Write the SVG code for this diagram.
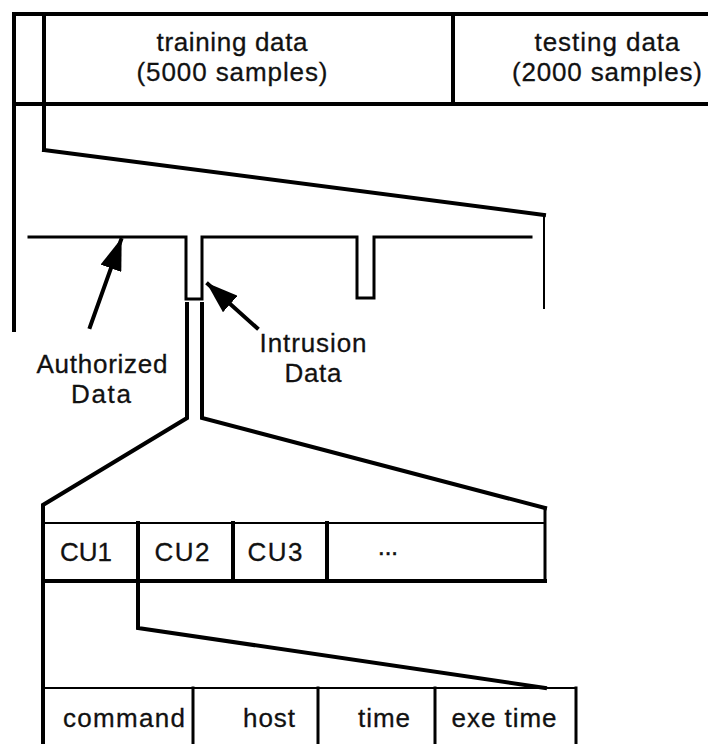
<svg xmlns="http://www.w3.org/2000/svg" width="708" height="744" viewBox="0 0 708 744">
  <style>
    .ln { fill: none; stroke: #000; stroke-linecap: square; stroke-linejoin: miter; }
    .w4 { stroke-width: 4; }
    .w3 { stroke-width: 3; }
    .w2 { stroke-width: 2; }
    text { font-family: "Liberation Sans", Arial, Helvetica, sans-serif; font-size: 26px; fill: #111; stroke: #111; stroke-width: 0.3; text-anchor: middle; }
  </style>
  <defs>
    <marker id="head" viewBox="0 0 32 22" refX="30" refY="11" markerWidth="32" markerHeight="22" markerUnits="userSpaceOnUse" orient="auto">
      <path d="M0,0 L32,11 L0,22 z" fill="#000"/>
    </marker>
  </defs>
  <rect width="708" height="744" fill="#fff"/>

  <!-- dataset table: training / testing -->
  <g id="dataset">
    <path class="ln w4" d="M14,330 V14 H710 M14,104 H710 M453,14 V104"/>
    <path class="ln w4" d="M44,14 V150"/>
    <text x="232" y="51" textLength="151">training data</text>
    <text x="232" y="81" textLength="191">(5000 samples)</text>
    <text x="607" y="51" textLength="145">testing data</text>
    <text x="607" y="81" textLength="190">(2000 samples)</text>
  </g>

  <!-- training data stream with intrusion notches -->
  <g id="stream">
    <path class="ln w3" d="M29,237 H186 V299 H202 V237 H357 V298 H374 V237 H531"/>
  </g>

  <!-- command unit table -->
  <g id="cu-table">
    <path class="ln w2" d="M43,523 H545"/>
    <path class="ln w4" d="M43,581 H545 M138,523 V581 M233,523 V581 M327,523 V581"/>
    <path class="ln w3" d="M545,508 V581"/>
    <text x="86" y="561" textLength="52">CU1</text>
    <text x="182" y="561" textLength="55">CU2</text>
    <text x="275" y="561" textLength="55">CU3</text>
    <text x="388" y="561" textLength="22">···</text>
  </g>

  <!-- command unit fields -->
  <g id="field-table">
    <path class="ln w2" d="M43,688 H576"/>
    <path class="ln w3" d="M576,688 V746 M193,688 V746 M318,688 V746 M435,688 V746"/>
    <text x="124" y="727" textLength="122">command</text>
    <text x="269" y="727" textLength="52">host</text>
    <text x="384" y="727" textLength="52">time</text>
    <text x="504" y="727" textLength="105">exe time</text>
  </g>

  <!-- labels -->
  <g id="label-authorized">
    <text x="102" y="373" textLength="131">Authorized</text>
    <text x="101" y="403" textLength="60">Data</text>
  </g>
  <g id="label-intrusion">
    <text x="313" y="352" textLength="107">Intrusion</text>
    <text x="313" y="382" textLength="57">Data</text>
  </g>

  <!-- expansion lines and pointer arrows -->
  <g id="connectors">
    <path class="ln w4" d="M44,150 L544,215"/>
    <path class="ln w2" d="M544,215 V308"/>
    <path class="ln w4" d="M187,304 V418 L43,505 V746"/>
    <path class="ln w4" d="M202,304 V418 L545,508"/>
    <path class="ln w4" d="M138,581 V628 L545,688"/>
    <line class="ln w4" x1="90" y1="327" x2="121" y2="240" marker-end="url(#head)" stroke-linecap="butt"/>
    <line class="ln w4" x1="257" y1="328" x2="208" y2="284" marker-end="url(#head)" stroke-linecap="butt"/>
  </g>
</svg>
